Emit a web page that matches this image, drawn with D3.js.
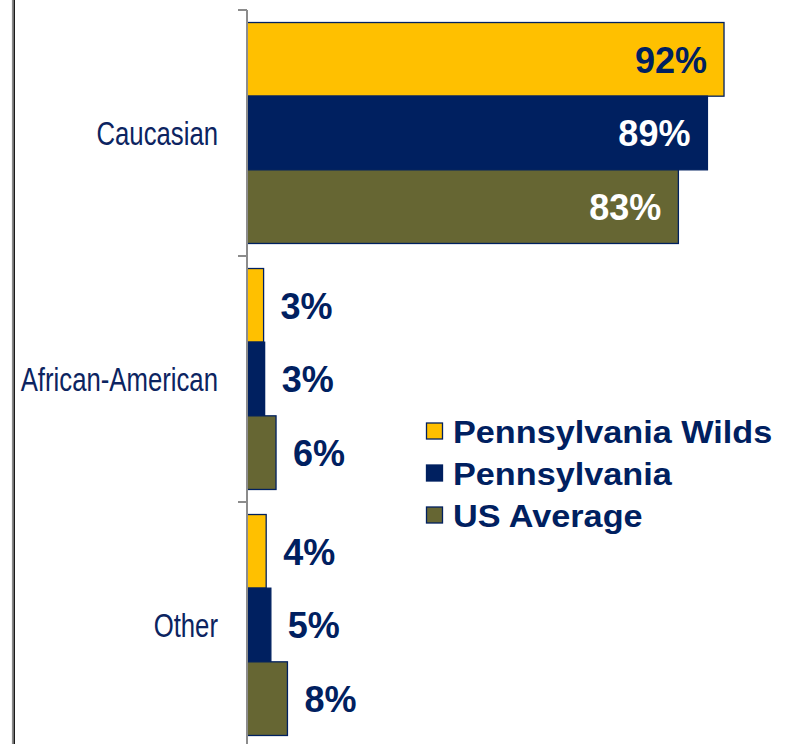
<!DOCTYPE html>
<html>
<head>
<meta charset="utf-8">
<script src="https://cdn.jsdelivr.net/npm/d3@7"></script>
<style>
  html, body { margin: 0; padding: 0; background: #fff; }
  svg { display: block; }
</style>
</head>
<body>
<svg id="chart" width="788" height="744"></svg>
<script>
const categories = ["Caucasian", "African-American", "Other"];
const seriesNames = ["Pennsylvania Wilds", "Pennsylvania", "US Average"];
const pennsylvaniaWilds = [92.0, 3.2, 3.7];
const pennsylvania = [88.8, 3.4, 4.6];
const usAverage = [83.2, 5.6, 7.8];
const seriesColors = ["#FFC000", "#002060", "#666633"];
const insideLabelColors = ["#002060", "#FFFFFF", "#FFFFFF"];

const seriesValues = [pennsylvaniaWilds, pennsylvania, usAverage];
const rows = [];
categories.forEach((c, ci) => {
  seriesNames.forEach((s, si) => rows.push({ cat: c, series: s, si, value: seriesValues[si][ci] }));
});

const svg = d3.select("#chart");
const navy = "#002060";

// left frame lines
svg.append("line").attr("x1", 12.5).attr("x2", 12.5).attr("y1", 0).attr("y2", 744)
  .attr("stroke", "#8a8a8a").attr("stroke-width", 1.2);
svg.append("line").attr("x1", 14.2).attr("x2", 14.2).attr("y1", 0).attr("y2", 744)
  .attr("stroke", "#1a1a1a").attr("stroke-width", 1.6);

const x0 = 247;
const x = d3.scaleLinear().domain([0, 100]).range([x0, x0 + 518.5]);
const y = d3.scaleBand().domain(categories).range([10, 748]).paddingInner(0).paddingOuter(0);
const yInner = d3.scaleBand().domain(seriesNames).range([0, y.bandwidth()]).paddingInner(0).paddingOuter(0.17);

// bars
const g = svg.append("g");
g.selectAll("rect.bar").data(rows).join("rect")
  .attr("class", "bar")
  .attr("x", x(0))
  .attr("y", d => y(d.cat) + yInner(d.series))
  .attr("width", d => x(d.value) - x(0))
  .attr("height", yInner.bandwidth())
  .attr("fill", d => seriesColors[d.si])
  .attr("stroke", navy)
  .attr("stroke-width", 1.3);

// axis line and ticks at band boundaries
const tickYs = categories.map(c => y(c)).concat([y.range()[1]]);
svg.append("line").attr("x1", x0).attr("x2", x0).attr("y1", tickYs[0]).attr("y2", 744)
  .attr("stroke", "#8c8c8c").attr("stroke-width", 2);
svg.selectAll("line.tick").data(tickYs).join("line")
  .attr("class", "tick")
  .attr("x1", x0 - 9).attr("x2", x0)
  .attr("y1", d => d).attr("y2", d => d)
  .attr("stroke", "#8c8c8c").attr("stroke-width", 2);

// category labels
svg.selectAll("text.cat").data(categories).join("text")
  .attr("class", "cat")
  .attr("transform", d => `translate(218,${y(d) + y.bandwidth() / 2}) scale(0.78,1)`)
  .attr("text-anchor", "end")
  .attr("dy", "0.36em")
  .attr("font-family", "'Liberation Sans', Arial, sans-serif")
  .attr("font-size", 33)
  .attr("fill", "#0c2461")
  .text(d => d);

// value labels
const insideThreshold = 20;
svg.selectAll("text.val").data(rows).join("text")
  .attr("class", "val")
  .attr("x", d => d.value > insideThreshold ? x(d.value) - 17 : x(d.value) + 17)
  .attr("y", d => y(d.cat) + yInner(d.series) + yInner.bandwidth() / 2)
  .attr("dy", "0.37em")
  .attr("text-anchor", d => d.value > insideThreshold ? "end" : "start")
  .attr("font-family", "'Liberation Sans', Arial, sans-serif")
  .attr("font-weight", "bold")
  .attr("font-size", 36)
  .attr("fill", d => d.value > insideThreshold ? insideLabelColors[d.si] : navy)
  .text(d => Math.round(d.value) + "%");

// legend
const legendY = d3.scalePoint().domain(seriesNames).range([431, 515]);
const leg = svg.selectAll("g.leg").data(seriesNames).join("g")
  .attr("class", "leg")
  .attr("transform", d => `translate(426,${legendY(d)})`);
leg.append("rect")
  .attr("x", 0.5).attr("y", -8).attr("width", 16).attr("height", 16)
  .attr("fill", (d, i) => seriesColors[i])
  .attr("stroke", navy).attr("stroke-width", 1.3);
leg.append("text")
  .attr("transform", "translate(27,0) scale(1.07,1)")
  .attr("dy", "0.36em")
  .attr("font-family", "'Liberation Sans', Arial, sans-serif")
  .attr("font-weight", "bold")
  .attr("font-size", 32)
  .attr("fill", navy)
  .text(d => d);
</script>
</body>
</html>
